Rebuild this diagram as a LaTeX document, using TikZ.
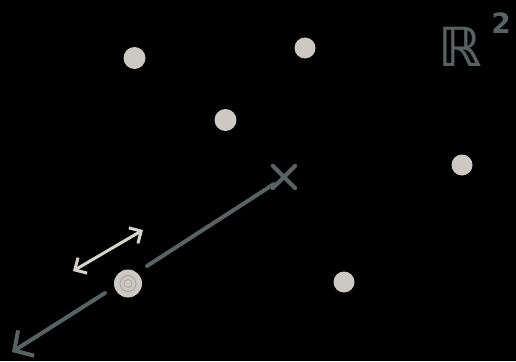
\documentclass[tikz,border=0pt]{standalone}
\usepackage{fontspec}
\usetikzlibrary{arrows.meta,calc}
\newfontfamily\symfont{DejaVu Sans}
\definecolor{dotc}{RGB}{204,201,194}
\definecolor{linec}{RGB}{88,98,98}
\definecolor{arrc}{RGB}{214,211,204}
\tikzset{
  pt/.style={circle, fill=dotc, inner sep=0pt, minimum size=#1},
  pt/.default=22pt,
  gline/.style={draw=linec, line width=4pt, line cap=round},
  dbl/.style={draw=arrc, line width=3pt, line cap=round, {Straight Barb[length=9pt,width=18pt]}-{Straight Barb[length=9pt,width=18pt]}}
}
\begin{document}
\begin{tikzpicture}[x=1pt,y=-1pt]
\fill[black] (0,0) rectangle (516,361);
\useasboundingbox (0,0) rectangle (516,361);
\node[pt] (p1) at (134.5,58) {};
\node[pt=21pt] (p2) at (305,48) {};
\node[pt] (p3) at (225.5,120) {};
\node[pt=21pt] (p4) at (462,165) {};
\node[pt=21pt] (p5) at (344,282) {};
\node[pt=28pt] (p6) at (128,283.5) {};
\draw[dotc!80!black, line width=0.8pt] (p6.center) circle (8pt);
\draw[dotc!80!black, line width=0.6pt] (p6.center) circle (4pt);
% cross
\node[inner sep=0pt, minimum size=22pt] (x) at (284,177) {};
\draw[gline, line width=4pt] (x.north west) -- (x.south east) (x.north east) -- (x.south west);
\coordinate (g1) at (147,266);
\coordinate (g2) at (105,293);
\coordinate (tip) at (12,352);
\draw[gline] ($(x.center)+(-10,7)$) -- (g1);
\draw[gline, -{Straight Barb[length=14pt,width=30pt]}] (g2) -- (tip);
% double arrow
\coordinate (d1) at (73,271);
\coordinate (d2) at (143,230);
\draw[dbl] (d1) -- (d2);
% label
\node[text=linec, font=\symfont\bfseries\fontsize{54}{54}\selectfont, inner sep=0pt] (R) at (460,47) {ℝ};
\node[text=linec, font=\symfont\bfseries\fontsize{28}{28}\selectfont, inner sep=0pt] (two) at (501,23) {2};
\end{tikzpicture}
\end{document}
